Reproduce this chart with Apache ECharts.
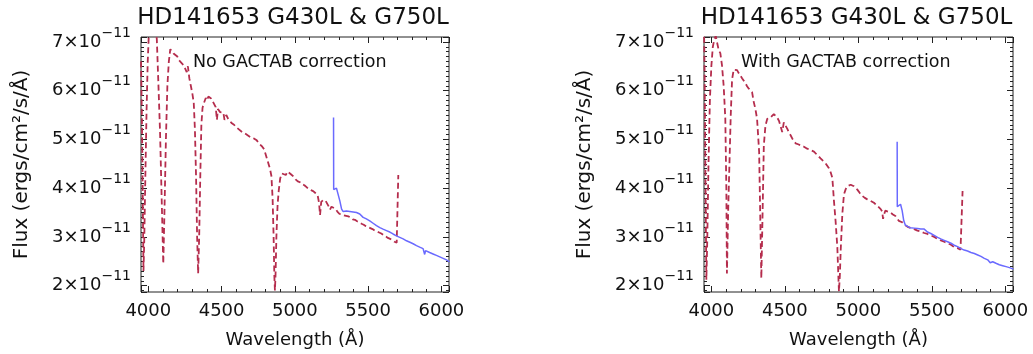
<!DOCTYPE html>
<html>
<head>
<meta charset="utf-8">
<title>HD141653 G430L &amp; G750L</title>
<script src="https://cdn.jsdelivr.net/npm/echarts@6/dist/echarts.min.js"></script>
<style>
  html, body { margin: 0; padding: 0; background: #ffffff; }
  #chart { width: 1033px; height: 354px; }
</style>
</head>
<body>
<div id="chart"></div>
<script>
// Flux values are in units of 1e-11 ergs/cm^2/s/Å; wavelengths in Å.

// G430L, no GACTAB correction
const wlG430Raw = [3950, 3956, 3962, 3967, 3972, 3980, 3988, 3996, 4004, 4015, 4035, 4050, 4058, 4068, 4080, 4091, 4102, 4110, 4120, 4130, 4140, 4150, 4160, 4172, 4185, 4198, 4210, 4222, 4232, 4244, 4255, 4262, 4270, 4280, 4290, 4300, 4310, 4318, 4326, 4333, 4340, 4347, 4355, 4362, 4370, 4380, 4392, 4400, 4410, 4420, 4428, 4436, 4445, 4452, 4460, 4468, 4475, 4490, 4500, 4512, 4520, 4532, 4545, 4558, 4570, 4585, 4600, 4620, 4640, 4660, 4680, 4700, 4720, 4740, 4760, 4775, 4790, 4800, 4810, 4820, 4830, 4840, 4848, 4855, 4860, 4864, 4868, 4874, 4882, 4890, 4900, 4912, 4925, 4938, 4950, 4962, 4975, 4990, 5005, 5020, 5035, 5050, 5065, 5080, 5095, 5110, 5125, 5140, 5155, 5165, 5172, 5180, 5195, 5210, 5222, 5232, 5240, 5250, 5262, 5275, 5290, 5305, 5320, 5335, 5350, 5365, 5380, 5395, 5410, 5425, 5440, 5455, 5470, 5485, 5500, 5515, 5530, 5545, 5560, 5575, 5590, 5605, 5620, 5635, 5650, 5665, 5680, 5695, 5705, 5706];
const fluxG430Raw = [6.6, 5.5, 3.8, 2.3, 2.9, 4.3, 5.6, 6.6, 7.2, 7.6, 7.7, 7.3, 7.05, 6.2, 5.15, 3.8, 2.45, 3.5, 5.0, 6.1, 6.6, 6.85, 6.82, 6.76, 6.78, 6.70, 6.62, 6.66, 6.55, 6.50, 6.46, 6.38, 6.50, 6.25, 6.10, 5.95, 5.75, 5.2, 4.2, 3.0, 2.25, 3.0, 4.3, 5.3, 5.65, 5.75, 5.85, 5.80, 5.88, 5.90, 5.84, 5.86, 5.75, 5.72, 5.66, 5.40, 5.62, 5.56, 5.52, 5.55, 5.40, 5.50, 5.42, 5.45, 5.33, 5.30, 5.25, 5.20, 5.15, 5.12, 5.08, 5.04, 5.02, 4.98, 4.90, 4.86, 4.80, 4.70, 4.60, 4.50, 4.40, 4.25, 3.80, 3.00, 2.20, 1.90, 2.20, 3.00, 3.65, 3.95, 4.20, 4.30, 4.33, 4.27, 4.34, 4.30, 4.28, 4.24, 4.18, 4.14, 4.12, 4.08, 4.06, 4.02, 3.98, 3.96, 3.94, 3.90, 3.86, 3.70, 3.45, 3.72, 3.76, 3.74, 3.70, 3.62, 3.56, 3.62, 3.66, 3.58, 3.52, 3.47, 3.46, 3.44, 3.43, 3.42, 3.40, 3.36, 3.35, 3.32, 3.30, 3.27, 3.25, 3.22, 3.20, 3.18, 3.16, 3.13, 3.11, 3.09, 3.07, 3.04, 3.01, 2.98, 2.96, 2.93, 2.90, 2.88, 2.84, 4.27];

// G750L, no GACTAB correction
const wlG750Raw = [5264, 5265, 5284, 5296, 5307, 5319, 5330, 5352, 5375, 5398, 5421, 5443, 5466, 5488, 5511, 5534, 5557, 5580, 5602, 5625, 5648, 5670, 5693, 5716, 5739, 5762, 5785, 5807, 5830, 5852, 5875, 5886, 5892, 5898, 5920, 5943, 5966, 5989, 6012, 6035, 6055];
const fluxG750Raw = [5.45, 3.97, 4.00, 3.97, 3.74, 3.57, 3.52, 3.53, 3.52, 3.51, 3.50, 3.47, 3.40, 3.37, 3.33, 3.28, 3.23, 3.19, 3.16, 3.13, 3.10, 3.06, 3.02, 2.99, 2.96, 2.92, 2.89, 2.86, 2.82, 2.79, 2.76, 2.64, 2.72, 2.70, 2.68, 2.65, 2.62, 2.59, 2.56, 2.53, 2.49];

// G430L, with GACTAB correction
const wlG430Corr = [3950, 3954, 3960, 3966, 3972, 3980, 3990, 4000, 4010, 4020, 4030, 4040, 4050, 4061, 4072, 4084, 4095, 4102, 4106, 4115, 4124, 4132, 4141, 4152, 4164, 4175, 4186, 4198, 4210, 4220, 4232, 4243, 4255, 4266, 4277, 4289, 4300, 4311, 4325, 4334, 4340, 4348, 4357, 4368, 4380, 4391, 4402, 4414, 4425, 4436, 4448, 4460, 4470, 4482, 4493, 4505, 4516, 4528, 4540, 4550, 4562, 4573, 4590, 4607, 4630, 4652, 4675, 4698, 4720, 4743, 4760, 4777, 4790, 4800, 4812, 4823, 4834, 4845, 4857, 4864, 4868, 4874, 4880, 4891, 4902, 4914, 4925, 4936, 4948, 4960, 4970, 4982, 4993, 5010, 5027, 5044, 5061, 5083, 5106, 5128, 5152, 5162, 5168, 5176, 5184, 5200, 5218, 5235, 5252, 5264, 5275, 5298, 5320, 5340, 5360, 5380, 5402, 5425, 5448, 5470, 5493, 5516, 5539, 5561, 5584, 5607, 5630, 5652, 5675, 5695, 5708, 5709];
const fluxG430Corr = [7.3, 6.4, 4.2, 2.12, 2.9, 4.4, 5.8, 6.5, 6.9, 7.05, 7.12, 7.08, 6.83, 6.77, 6.53, 6.09, 5.42, 4.0, 2.25, 3.6, 4.6, 5.5, 6.23, 6.43, 6.46, 6.42, 6.36, 6.33, 6.25, 6.23, 6.15, 6.09, 6.04, 6.03, 5.97, 5.76, 5.62, 5.42, 4.75, 3.2, 2.15, 3.4, 4.88, 5.28, 5.42, 5.40, 5.45, 5.47, 5.52, 5.50, 5.45, 5.38, 5.28, 5.15, 5.35, 5.28, 5.22, 5.14, 5.08, 5.02, 4.98, 4.92, 4.90, 4.88, 4.85, 4.81, 4.78, 4.75, 4.68, 4.61, 4.56, 4.51, 4.47, 4.41, 4.32, 4.21, 3.74, 3.33, 2.79, 2.2, 1.88, 2.2, 2.73, 3.47, 3.87, 3.98, 4.04, 4.05, 4.07, 4.05, 4.04, 4.00, 3.97, 3.90, 3.84, 3.80, 3.77, 3.74, 3.70, 3.64, 3.57, 3.52, 3.37, 3.47, 3.54, 3.52, 3.50, 3.46, 3.43, 3.38, 3.33, 3.30, 3.24, 3.20, 3.18, 3.16, 3.13, 3.11, 3.08, 3.06, 3.03, 3.00, 2.96, 2.93, 2.90, 2.87, 2.84, 2.79, 2.77, 2.74, 2.72, 3.94];

// G750L, with GACTAB correction
const wlG750Corr = [5264, 5265, 5276, 5287, 5298, 5309, 5320, 5328, 5350, 5380, 5403, 5425, 5448, 5470, 5493, 5516, 5539, 5561, 5584, 5607, 5630, 5652, 5675, 5698, 5720, 5743, 5766, 5789, 5812, 5834, 5857, 5880, 5891, 5897, 5902, 5914, 5936, 5959, 5982, 6005, 6028, 6055];
const fluxG750Corr = [4.95, 3.62, 3.64, 3.67, 3.54, 3.33, 3.24, 3.21, 3.19, 3.18, 3.17, 3.16, 3.16, 3.10, 3.07, 3.03, 2.99, 2.96, 2.93, 2.90, 2.87, 2.83, 2.80, 2.76, 2.73, 2.71, 2.68, 2.66, 2.63, 2.60, 2.56, 2.53, 2.51, 2.47, 2.44, 2.49, 2.46, 2.43, 2.41, 2.39, 2.37, 2.34];

const xRange = [3950, 6052];
const yRange = [1.87, 7.1];
const titleText = 'HD141653 G430L & G750L';
const panelNotes = ['No GACTAB correction', 'With GACTAB correction'];
const yExponent = '\u221211';

const FONT = '"DejaVu Sans", sans-serif';
const RED = '#b52d4d';
const BLUE = '#6a6aff';

const panels = [
  { left: 141, top: 37, width: 308, height: 258, note: panelNotes[0],
    red: wlG430Raw.map((w, i) => [w, fluxG430Raw[i]]),
    blue: wlG750Raw.map((w, i) => [w, fluxG750Raw[i]]) },
  { left: 704, top: 37, width: 309, height: 258, note: panelNotes[1],
    red: wlG430Corr.map((w, i) => [w, fluxG430Corr[i]]),
    blue: wlG750Corr.map((w, i) => [w, fluxG750Corr[i]]) }
];

const isWhole = (v, step) => Math.abs(v / step - Math.round(v / step)) < 1e-6;

const grid = [], xAxis = [], yAxis = [], series = [], graphic = [];

panels.forEach((p, gi) => {
  grid.push({ left: p.left, top: p.top, width: p.width, height: p.height,
    show: true, borderColor: '#222', borderWidth: 1, backgroundColor: 'transparent' });

  const xBase = xAxis.length, yBase = yAxis.length;
  // x axes: bottom major (labelled), bottom minor, top major, top minor
  ['bottom', 'top'].forEach((pos) => {
    xAxis.push({
      type: 'value', gridIndex: gi, position: pos, min: xRange[0], max: xRange[1], splitNumber: 4,
      axisLine: { show: false }, splitLine: { show: false },
      axisTick: { show: true, inside: true, length: 6, lineStyle: { color: '#222', width: 1 } },
      axisLabel: pos === 'bottom' ? {
        show: true, margin: 10, color: '#111', fontFamily: FONT, fontSize: 18,
        formatter: (v) => isWhole(v, 500) ? String(v) : ''
      } : { show: false },
      name: pos === 'bottom' ? 'Wavelength (\u00C5)' : '',
      nameLocation: 'middle', nameGap: 39,
      nameTextStyle: { color: '#111', fontFamily: FONT, fontSize: 18 }
    });
    xAxis.push({
      type: 'value', gridIndex: gi, position: pos, min: xRange[0], max: xRange[1], splitNumber: 21,
      axisLine: { show: false }, splitLine: { show: false }, axisLabel: { show: false },
      axisTick: { show: true, inside: true, length: 3, lineStyle: { color: '#222', width: 1 } }
    });
  });
  // y axes: left major (labelled), left minor, right major, right minor
  ['left', 'right'].forEach((pos) => {
    yAxis.push({
      type: 'value', gridIndex: gi, position: pos, min: yRange[0], max: yRange[1], splitNumber: 5,
      axisLine: { show: false }, splitLine: { show: false },
      axisTick: { show: true, inside: true, length: 6, lineStyle: { color: '#222', width: 1 } },
      axisLabel: pos === 'left' ? {
        show: true, margin: 10, color: '#111', fontFamily: FONT,
        formatter: (v) => isWhole(v, 1) ? '{m|' + Math.round(v) + '\u00D710}{e|' + yExponent + '}' : '',
        rich: {
          m: { fontFamily: FONT, fontSize: 18, lineHeight: 32, color: '#111' },
          e: { fontFamily: FONT, fontSize: 14, lineHeight: 14, verticalAlign: 'top', color: '#111' }
        }
      } : { show: false },
      name: pos === 'left' ? 'Flux (ergs/cm\u00B2/s/\u00C5)' : '',
      nameLocation: 'middle', nameGap: 109, nameRotate: 90,
      nameTextStyle: { color: '#111', fontFamily: FONT, fontSize: 20 }
    });
    yAxis.push({
      type: 'value', gridIndex: gi, position: pos, min: yRange[0], max: yRange[1], splitNumber: 50,
      axisLine: { show: false }, splitLine: { show: false }, axisLabel: { show: false },
      axisTick: { show: true, inside: true, length: 3, lineStyle: { color: '#222', width: 1 } }
    });
  });

  series.push({
    name: 'G430L', type: 'line', xAxisIndex: xBase, yAxisIndex: yBase, data: p.red,
    showSymbol: false, symbol: 'none', clip: true, animation: false,
    lineStyle: { color: RED, width: 1.8, type: [6, 3.5] }
  });
  series.push({
    name: 'G750L', type: 'line', xAxisIndex: xBase, yAxisIndex: yBase, data: p.blue,
    showSymbol: false, symbol: 'none', clip: true, animation: false,
    lineStyle: { color: BLUE, width: 1.5 }
  });

  graphic.push({
    type: 'text', x: p.left + p.width / 2 - 2, y: 18,
    style: { text: titleText, fontFamily: FONT, fontSize: 23, fill: '#111',
      textAlign: 'center', textVerticalAlign: 'middle' }
  });
  graphic.push({
    type: 'text', x: gi === 0 ? 193 : 741, y: 62,
    style: { text: p.note, fontFamily: FONT, fontSize: 17.5, fill: '#111',
      textAlign: 'left', textVerticalAlign: 'middle' }
  });
});

const chart = echarts.init(document.getElementById('chart'), null, { renderer: 'canvas' });
chart.setOption({
  backgroundColor: '#ffffff',
  animation: false,
  grid, xAxis, yAxis, series, graphic
});
</script>
</body>
</html>
